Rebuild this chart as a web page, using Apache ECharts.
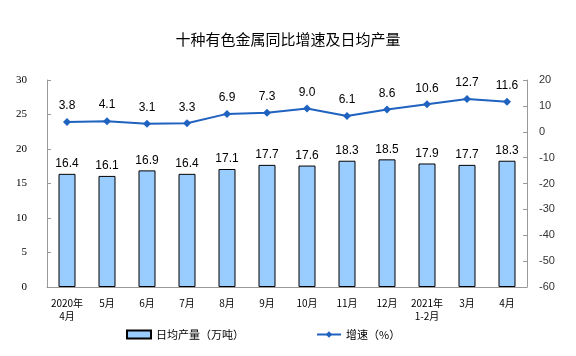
<!DOCTYPE html>
<html><head><meta charset="utf-8">
<script src="https://cdn.jsdelivr.net/npm/echarts@6/dist/echarts.min.js"></script>
<style>html,body{margin:0;padding:0;background:#fff}#c{width:576px;height:356px}</style>
</head><body><div id="c"></div>
<script>
const categories = ['2020年\n4月','5月','6月','7月','8月','9月','10月','11月','12月','2021年\n1-2月','3月','4月'];
const output = [16.4,16.1,16.9,16.4,17.1,17.7,17.6,18.3,18.5,17.9,17.7,18.3];
const growth = [3.8,4.1,3.1,3.3,6.9,7.3,9.0,6.1,8.6,10.6,12.7,11.6];
const chart = echarts.init(document.getElementById('c'));
chart.setOption({
  animation:false,
  title:{text:'十种有色金属同比增速及日均产量',left:'center',top:27,textStyle:{fontSize:15,fontWeight:'normal',color:'#000',fontFamily:'Noto Sans CJK SC'}},
  grid:{left:47,right:49,top:80,bottom:69},
  legend:{bottom:11,left:121,itemGap:72,itemWidth:24,itemHeight:8,textStyle:{fontSize:11,color:'#000',fontFamily:'Noto Sans CJK SC'},
    data:[{name:'日均产量（万吨）',icon:'rect'},{name:'增速（%）'}]},
  xAxis:{type:'category',data:categories,
    axisLine:{lineStyle:{color:'#999'}},axisTick:{inside:true,length:4,lineStyle:{color:'#999'}},
    axisLabel:{fontSize:10,color:'#000',fontFamily:'Noto Sans CJK SC',lineHeight:13,margin:10,interval:0}},
  yAxis:[
    {type:'value',min:0,max:30,interval:5,splitLine:{show:false},
     axisLine:{show:true,lineStyle:{color:'#999'}},axisTick:{show:true,inside:true,length:4,lineStyle:{color:'#999'}},
     axisLabel:{fontSize:11,color:'#000',fontFamily:'Liberation Serif',margin:20}},
    {type:'value',min:-60,max:20,interval:10,splitLine:{show:false},
     axisLine:{show:true,lineStyle:{color:'#999'}},axisTick:{show:true,inside:true,length:4,lineStyle:{color:'#999'}},
     axisLabel:{fontSize:11,color:'#333',fontFamily:'Liberation Sans',margin:12}}
  ],
  series:[
    {name:'日均产量（万吨）',type:'bar',data:output,barWidth:17,
     itemStyle:{color:'#99CCFF',borderColor:'#000',borderWidth:1},
     label:{show:true,position:'top',distance:4,fontSize:12,color:'#000',fontFamily:'Liberation Sans'}},
    {name:'增速（%）',type:'line',yAxisIndex:1,data:growth,
     symbol:'diamond',symbolSize:8,
     lineStyle:{color:'#1F62BF',width:2},itemStyle:{color:'#1F62BF'},
     label:{show:true,position:'top',distance:6,fontSize:12,color:'#000',fontFamily:'Liberation Sans',formatter:p=>p.value.toFixed(1)}}
  ]
});
</script></body></html>
